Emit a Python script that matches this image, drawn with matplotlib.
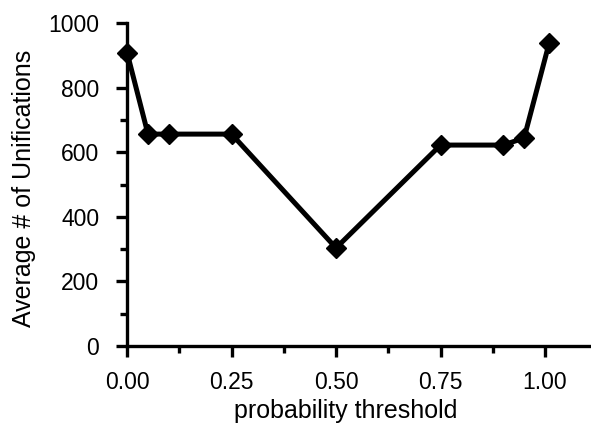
import numpy as np
import matplotlib
matplotlib.use("Agg")
import matplotlib.pyplot as plt
from matplotlib.ticker import MultipleLocator

# data
threshold = [0.0, 0.05, 0.10, 0.25, 0.50, 0.75, 0.90, 0.95, 1.01]
unifications = [910, 657, 657, 657, 304, 623, 623, 645, 940]

plt.rcParams['font.family'] = ['Liberation Sans', 'DejaVu Sans']

fig = plt.figure(figsize=(5.91, 4.24), dpi=100)
ax = fig.add_axes([0.215, 0.184, 0.785, 0.7606])

ax.plot(threshold, unifications, color='black', lw=3.6, marker='D',
        markersize=10, clip_on=False, zorder=3)

ax.set_xlim(0, 1.11)
ax.set_ylim(0, 1000)
ax.xaxis.set_major_locator(MultipleLocator(0.25))
ax.xaxis.set_minor_locator(MultipleLocator(0.125))
ax.yaxis.set_major_locator(MultipleLocator(200))
ax.yaxis.set_minor_locator(MultipleLocator(100))
ax.xaxis.set_major_formatter(plt.FormatStrFormatter('%.2f'))

for s in ['top', 'right']:
    ax.spines[s].set_visible(False)
for s in ['left', 'bottom']:
    ax.spines[s].set_linewidth(2.4)

ax.tick_params(which='major', direction='out', length=8, width=2.4,
               labelsize=16.5)
ax.tick_params(axis='x', which='major', pad=10)
ax.tick_params(axis='y', which='major', pad=12)
ax.tick_params(which='minor', direction='out', length=5, width=2.4)

ax.set_xlabel('probability threshold', fontsize=18)
ax.set_ylabel('Average # of Unifications', fontsize=18)
ax.xaxis.set_label_coords(0.472, -0.165)
ax.yaxis.set_label_coords(-0.196, 0.49)

fig.savefig('out.png', dpi=100)
